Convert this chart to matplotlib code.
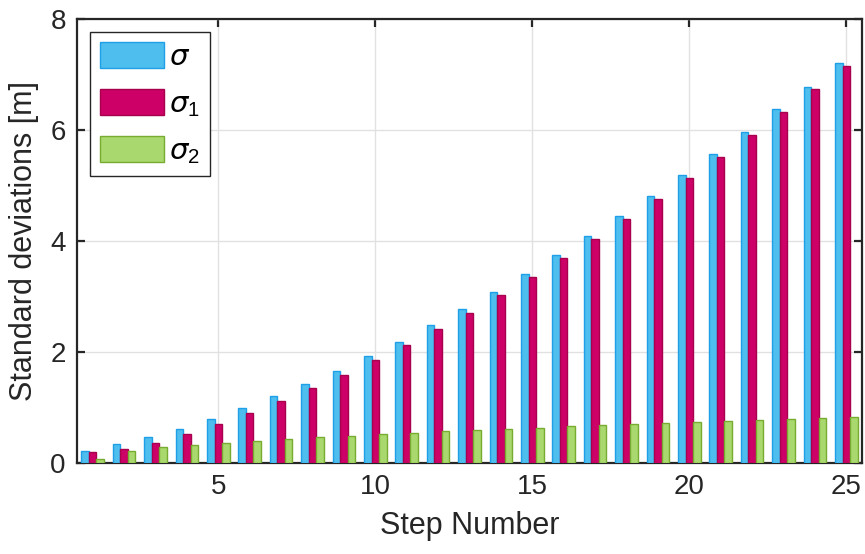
import matplotlib.pyplot as plt
import numpy as np

plt.rcParams['font.family'] = ['Liberation Sans', 'DejaVu Sans']
plt.rcParams['mathtext.fontset'] = 'dejavusans'

steps = np.arange(1, 26)
sigma = [0.22, 0.34, 0.47, 0.62, 0.79, 0.99, 1.20, 1.42, 1.66, 1.93,
         2.19, 2.48, 2.77, 3.09, 3.41, 3.75, 4.09, 4.45, 4.81, 5.18,
         5.57, 5.96, 6.37, 6.78, 7.21]
sigma1 = [0.20, 0.25, 0.36, 0.52, 0.70, 0.90, 1.11, 1.35, 1.59, 1.86,
          2.13, 2.41, 2.71, 3.03, 3.35, 3.69, 4.04, 4.40, 4.76, 5.14,
          5.52, 5.91, 6.32, 6.73, 7.15]
sigma2 = [0.08, 0.22, 0.29, 0.32, 0.37, 0.40, 0.43, 0.47, 0.49, 0.52,
          0.54, 0.57, 0.59, 0.62, 0.64, 0.67, 0.68, 0.70, 0.72, 0.74,
          0.76, 0.77, 0.79, 0.81, 0.83]

labels = [r'$\sigma$', r'$\sigma_{\mathregular{1}}$', r'$\sigma_{\mathregular{2}}$']
fills = ['#4dbeee', '#cc0066', '#a9d86e']
edges = ['#1e9fe8', '#a8004f', '#77ac30']

fig = plt.figure(figsize=(8.65, 5.54), dpi=100)
ax = fig.add_axes([0.089, 0.164, 0.9075, 0.802])

w = 0.24
for k, (vals, fc, ec, lab) in enumerate(zip([sigma, sigma1, sigma2], fills, edges, labels)):
    ax.bar(steps + (k - 1) * w, vals, width=w, color=fc, edgecolor=ec,
           linewidth=1.0, label=lab, zorder=3)

ax.set_xlim(0.5, 25.5)
ax.set_ylim(0, 8)
ax.set_xticks([5, 10, 15, 20, 25])
ax.set_yticks([0, 2, 4, 6, 8])
ax.grid(True, color='#e1e1e1', linewidth=1.0, zorder=0)
ax.set_axisbelow(True)

for s in ax.spines.values():
    s.set_linewidth(1.6)
    s.set_color('#262626')
ax.tick_params(direction='in', length=6, width=1.6, color='#262626',
               labelsize=20, labelcolor='#262626', top=True, right=True, pad=8)

ax.set_xlabel('Step Number', fontsize=22, color='#262626', labelpad=8)
ax.set_ylabel('Standard deviations [m]', fontsize=22, color='#262626', labelpad=8)

leg = ax.legend(loc='upper left', fontsize=21, fancybox=False, framealpha=1,
                edgecolor='#262626', handlelength=2.2, handleheight=1.0,
                borderaxespad=0.45, labelspacing=0.6, handletextpad=0.15,
                borderpad=0.35)
leg.get_frame().set_linewidth(1.0)

fig.savefig('out.png', dpi=100)
